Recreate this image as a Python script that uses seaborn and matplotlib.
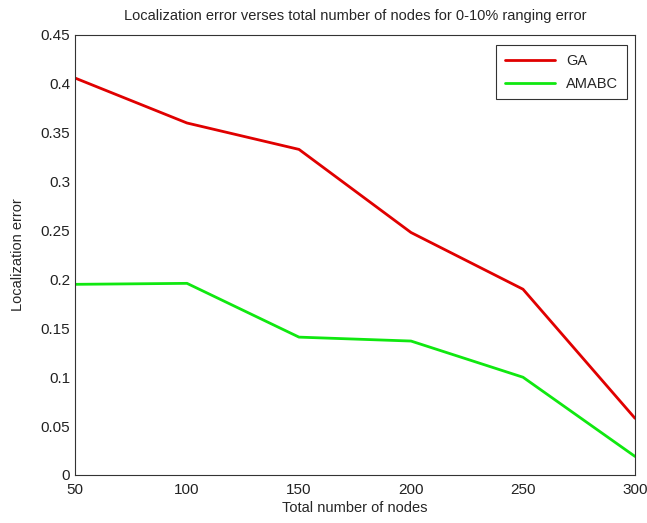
# Localization error vs total number of nodes (0-10% ranging error)

import pandas as pd
import matplotlib.pyplot as plt
import seaborn as sns

nodes = [50, 100, 150, 200, 250, 300]
ga_error = [0.406, 0.360, 0.333, 0.248, 0.190, 0.058]
amabc_error = [0.195, 0.196, 0.141, 0.137, 0.100, 0.019]

df = pd.DataFrame({
    "nodes": nodes * 2,
    "error": ga_error + amabc_error,
    "method": ["GA"] * len(nodes) + ["AMABC"] * len(nodes),
})

sns.set_style("white")
plt.rcParams["font.family"] = ["Liberation Sans", "DejaVu Sans"]

fig = plt.figure(figsize=(6.47, 5.23), dpi=100)
ax = fig.add_axes([75 / 647, 1 - 475 / 523, 560 / 647, 440 / 523])

sns.lineplot(
    data=df,
    x="nodes",
    y="error",
    hue="method",
    palette={"GA": "#e00000", "AMABC": "#10e810"},
    linewidth=2,
    ax=ax,
)

ax.set_xlim(50, 300)
ax.set_ylim(0, 0.45)
ax.set_xticks([50, 100, 150, 200, 250, 300])
ax.set_yticks([0, 0.05, 0.1, 0.15, 0.2, 0.25, 0.3, 0.35, 0.4, 0.45])
ax.set_yticklabels(["0", "0.05", "0.1", "0.15", "0.2", "0.25", "0.3", "0.35", "0.4", "0.45"])
ax.tick_params(direction="in", length=5, labelsize=11, colors="#222222", width=0.8)
ax.tick_params(axis="x", pad=6)
for s in ax.spines.values():
    s.set_color("#333333")
    s.set_linewidth(0.8)

ax.set_title("Localization error verses total number of nodes for 0-10% ranging error",
             fontsize=10.5, pad=11)
ax.set_xlabel("Total number of nodes", fontsize=10.5, labelpad=3)
ax.set_ylabel("Localization error", fontsize=10.5, labelpad=11)

leg = ax.legend(loc="upper right", fontsize=10.5, frameon=True, fancybox=False,
                edgecolor="black", handlelength=3.4, borderpad=0.6, labelspacing=0.6,
                borderaxespad=0, bbox_to_anchor=(0.9857, 0.977))
leg.get_frame().set_linewidth(0.8)

fig.savefig("out.png", dpi=100)
